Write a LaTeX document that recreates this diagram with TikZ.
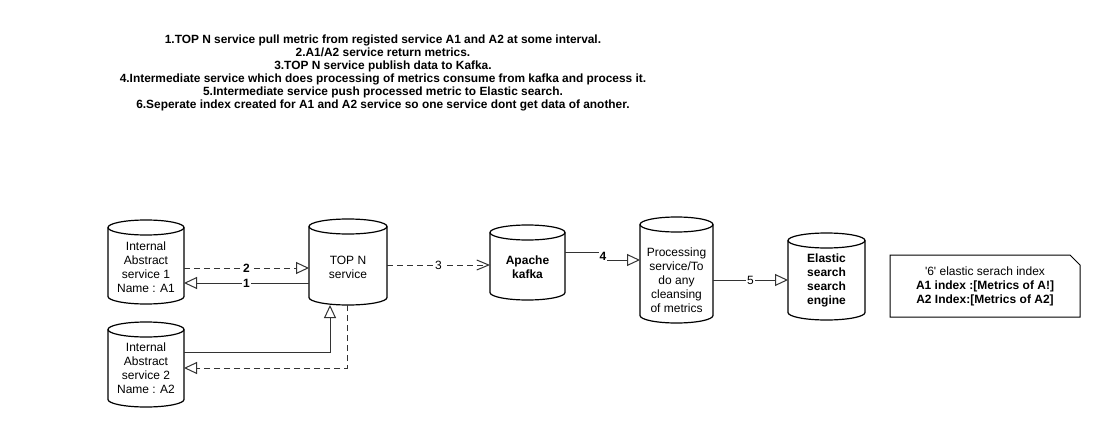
\documentclass[tikz,border=0pt]{standalone}
\usepackage{fontspec}
\setmainfont{Liberation Sans}
\usetikzlibrary{arrows.meta,calc}
\tikzset{
 box/.style={draw=none, inner sep=0pt, outer sep=0pt, rectangle},
 cylline/.style={draw=black, line width=1.2pt},
 txt/.style={align=center, font=\fontsize{12}{14}\selectfont, inner sep=0pt},
 btxt/.style={align=center, font=\fontsize{12}{14}\selectfont\bfseries, inner sep=0pt},
 conn/.style={draw=black!80, line width=1pt},
 dashconn/.style={conn, dash pattern=on 6pt off 4pt},
 tri/.style={-{Triangle[open, length=13pt, width=12pt]}},
 barb/.style={-{Straight Barb[length=12pt, width=10pt]}},
 elabel/.style={fill=white, inner sep=1pt, font=\fontsize{12}{14}\selectfont},
 belabel/.style={fill=white, inner sep=1pt, font=\fontsize{12}{14}\selectfont\bfseries},
}
\newcommand\cylshape[2]{%
 \draw[cylline] ([yshift=-7.5pt]#1.north west) -- ([yshift=7.5pt]#1.south west) arc[start angle=180, end angle=360, x radius=#2, y radius=7.5pt] -- ([yshift=-7.5pt]#1.north east);
 \draw[cylline] ([yshift=-7.5pt]#1.north) ellipse[x radius=#2, y radius=7.5pt];
}
\begin{document}
\begin{tikzpicture}[x=1pt,y=-1pt]
\fill[white] (0,0) rectangle (1100,425);
\useasboundingbox (0,0) rectangle (1100,425);

\node[align=center, font=\fontsize{11.9}{13}\selectfont\bfseries, inner sep=0pt] (title) at (383,73) {1.TOP N service pull metric from registed service A1 and A2 at some interval.\\2.A1/A2 service return metrics.\\3.TOP N service publish data to Kafka.\\4.Intermediate service which does processing of metrics consume from kafka and process it.\\5.Intermediate service push processed metric to Elastic search.\\6.Seperate index created for A1 and A2 service so one service dont get data of another.};

% cylinders
\node[box, minimum width=76pt, minimum height=84pt] (A1) at (146,262) {};
\cylshape{A1}{38pt}
\node[txt] (A1t) at (146,267) {Internal\\Abstract\\service 1\\Name : A1};

\node[box, minimum width=76pt, minimum height=85pt] (A2) at (146,364.5) {};
\cylshape{A2}{38pt}
\node[txt] (A2t) at (146,368.5) {Internal\\Abstract\\service 2\\Name : A2};

\node[box, minimum width=78pt, minimum height=86pt] (TOPN) at (348,262) {};
\cylshape{TOPN}{39pt}
\node[txt] (TOPNt) at (348,267) {TOP N\\service};

\node[box, minimum width=75pt, minimum height=75pt] (kafka) at (527.5,262.5) {};
\cylshape{kafka}{37.5pt}
\node[btxt] (kafkat) at (527.5,267.5) {Apache\\kafka};

\node[box, minimum width=73pt, minimum height=106pt] (proc) at (676.5,270) {};
\cylshape{proc}{36.5pt}
\node[txt] (proct) at (676.5,280.5) {Processing\\service/To\\do any\\cleansing\\of metrics};

\node[box, minimum width=77pt, minimum height=87pt] (elastic) at (826.5,276.5) {};
\cylshape{elastic}{38.5pt}
\node[btxt] (elastict) at (826.5,280) {Elastic\\search\\search\\engine};

% note
\node[box, minimum width=190pt, minimum height=62pt] (note) at (985,286) {};
\draw[draw=black, line width=1pt] (note.north west) -- ([xshift=-10pt]note.north east) -- ([yshift=-10pt]note.north east) -- (note.south east) -- (note.south west) -- cycle;
\node[txt] (notet) at (985,286.5) {\textquotesingle6\textquotesingle{} elastic serach index\\\textbf{A1 index :[Metrics of A!]}\\\textbf{A2 Index:[Metrics of A2]}};

% connectors
\draw[dashconn, tri] ([yshift=-6pt]A1.east) -- node[belabel] (l2) {2} ([yshift=-6pt]TOPN.west);
\draw[conn, tri] ([yshift=-21pt]TOPN.west) -- node[belabel] (l1) {1} ([yshift=-21pt]A1.east);
\draw[conn, tri] ([yshift=12.5pt]A2.east) -| ([xshift=-18pt]TOPN.south);
\draw[dashconn, tri] ([xshift=-1pt]TOPN.south) |- ([yshift=-3.5pt]A2.east);
\draw[dashconn, barb] ([yshift=-3pt]TOPN.east) -- node[elabel] (l3) {3} ([yshift=-2.5pt]kafka.west);
\coordinate (b4) at (603,256);
\draw[conn, tri] ([yshift=10.5pt]kafka.east) -| (b4) |- ([yshift=10pt]proc.west);
\node[belabel] (l4) at (b4) {4};
\draw[conn, tri] ([yshift=-10pt]proc.east) -- node[elabel] (l5) {5} ([yshift=-3.5pt]elastic.west);
\end{tikzpicture}
\end{document}
